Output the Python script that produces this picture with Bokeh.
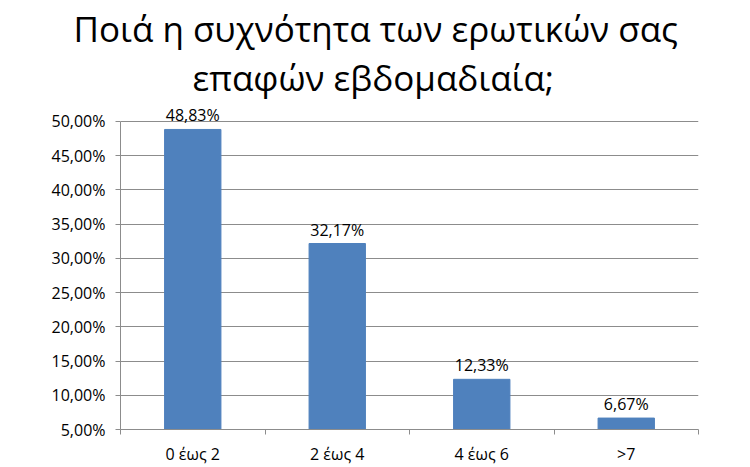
from bokeh.plotting import figure
from bokeh.models import ColumnDataSource, FixedTicker, Range1d, Title
from bokeh.core.properties import value
from bokeh.embed import file_html
from bokeh.resources import INLINE

categories = ["0 έως 2", "2 έως 4", "4 έως 6", ">7"]
values = [48.83, 32.17, 12.33, 6.67]
value_labels = ["48,83%", "32,17%", "12,33%", "6,67%"]
y_ticks = [5, 10, 15, 20, 25, 30, 35, 40, 45, 50]
y_tick_labels = ["5,00%", "10,00%", "15,00%", "20,00%", "25,00%", "30,00%",
                 "35,00%", "40,00%", "45,00%", "50,00%"]
title_lines = ["Ποιά η συχνότητα των ερωτικών σας", "επαφών εβδομαδιαία;"]

FONT = "Open Sans"
GRID = "#8c8c8c"

xs = [i + 0.5 for i in range(len(categories))]
src = ColumnDataSource(dict(x=xs, top=values, lab=value_labels))

p = figure(width=750, height=467, output_backend="svg", toolbar_location=None,
           x_range=Range1d(0, len(categories)), y_range=Range1d(5, 53.06),
           min_border_left=120, min_border_right=52, min_border_top=100,
           min_border_bottom=37)
p.title = None
p.outline_line_color = None
p.background_fill_color = "white"

p.vbar(x="x", top="top", bottom=5, width=0.39, source=src,
       fill_color="#4F81BD", line_color="#4F81BD")
p.text(x="x", y="top", text="lab", source=src, text_align="center",
       text_baseline="bottom", y_offset=-3, text_font=value(FONT),
       text_font_size="16px", text_color="black")

# y axis
ya = p.yaxis[0]
ya.ticker = FixedTicker(ticks=y_ticks)
ya.major_label_overrides = {t: l for t, l in zip(y_ticks, y_tick_labels)}
ya.bounds = (5, 50)
ya.axis_line_color = GRID
ya.major_tick_line_color = GRID
ya.major_tick_out = 5
ya.major_tick_in = 0
ya.minor_tick_line_color = None
ya.major_label_text_font = FONT
ya.major_label_text_font_size = "16px"
ya.major_label_text_color = "black"
ya.major_label_standoff = 10

# x axis
xa = p.xaxis[0]
xa.ticker = FixedTicker(ticks=xs, minor_ticks=[0, 1, 2, 3, 4])
xa.major_label_overrides = {x: c for x, c in zip(xs, categories)}
xa.axis_line_color = GRID
xa.major_tick_line_color = None
xa.major_tick_out = 0
xa.minor_tick_line_color = GRID
xa.minor_tick_out = 5
xa.minor_tick_in = 0
xa.major_label_text_font = FONT
xa.major_label_text_font_size = "16px"
xa.major_label_text_color = "black"
xa.major_label_standoff = 8

p.xgrid.visible = False
p.ygrid.ticker = FixedTicker(ticks=y_ticks[1:])
p.ygrid.grid_line_color = GRID
p.ygrid.grid_line_width = 1

title_offsets = [-47, 72]
for line, off in reversed(list(zip(title_lines, title_offsets))):
    t = Title(text=line, align="left", text_font=FONT,
              text_font_size="35px", text_font_style="normal",
              text_color="black", standoff=0, offset=off)
    p.add_layout(t, "above")

open("out.html", "w").write(file_html(p, INLINE))
